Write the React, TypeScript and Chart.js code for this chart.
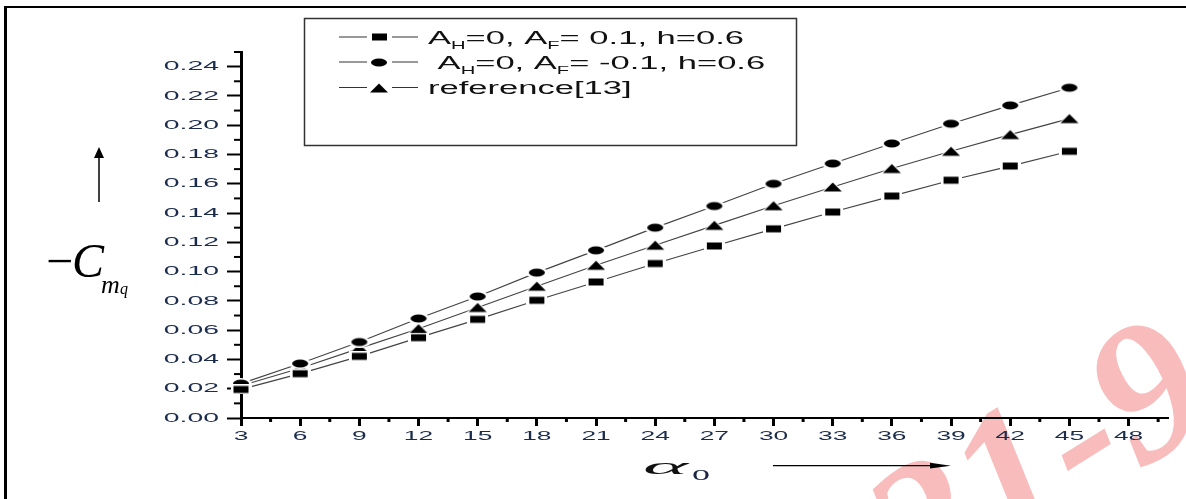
import React, { useEffect, useRef } from 'react';
import { Chart, registerables } from 'chart.js';

Chart.register(...registerables);

// ---- data ----
const alphaDeg = [3, 6, 9, 12, 15, 18, 21, 24, 27, 30, 33, 36, 39, 42, 45];
const cmqAfPos = [0.0195, 0.0303, 0.0421, 0.0549, 0.0674, 0.0804, 0.0929, 0.1055, 0.1175, 0.1292, 0.1407, 0.1516, 0.1624, 0.1721, 0.1822];
const cmqAfNeg = [0.0235, 0.0372, 0.0519, 0.068, 0.083, 0.0993, 0.1145, 0.13, 0.1448, 0.16, 0.1738, 0.1875, 0.201, 0.2135, 0.2256];
const cmqRef = [0.022, 0.034, 0.0476, 0.061, 0.0755, 0.09, 0.1043, 0.118, 0.1316, 0.145, 0.1578, 0.1704, 0.1822, 0.1936, 0.2045];
const seriesLabels = ['A_{H}=0, A_{F}= 0.1, h=0.6', ' A_{H}=0, A_{F}= -0.1, h=0.6', 'reference[13]'];
const xTitle = 'α';
const xTitleSub = 'o';
const yTitleParts = ['−', 'C', 'm', 'q'];
const watermark = '21-96';

type Kind = 'square' | 'circle' | 'triangle';

function shapePath(g: CanvasRenderingContext2D, kind: Kind, cx: number, cy: number, w: number, h: number) {
  g.beginPath();
  if (kind === 'square') g.rect(cx - w / 2, cy - h / 2, w, h);
  else if (kind === 'circle') g.ellipse(cx, cy, w / 2, h / 2, 0, 0, Math.PI * 2);
  else {
    g.moveTo(cx, cy - h / 2);
    g.lineTo(cx + w / 2, cy + h / 2);
    g.lineTo(cx - w / 2, cy + h / 2);
    g.closePath();
  }
}

function makeMarker(kind: Kind): HTMLCanvasElement {
  const dims: Record<Kind, [number, number]> = { square: [15, 7], circle: [16, 8], triangle: [18, 9] };
  const [w, h] = dims[kind];
  const hx = 3, hy = 1.5;
  const c = document.createElement('canvas');
  c.width = w + 2 * hx;
  c.height = h + 2 * hy;
  const g = c.getContext('2d')!;
  const cx = c.width / 2, cy = c.height / 2;
  g.fillStyle = '#fff';
  shapePath(g, kind, cx, cy, w + 2 * hx, h + 2 * hy);
  g.fill();
  g.fillStyle = '#000';
  shapePath(g, kind, cx, cy, w, h);
  g.fill();
  return c;
}

function stretchText(ctx: CanvasRenderingContext2D, text: string, x: number, y: number, sx: number, align: 'left' | 'center' | 'right') {
  const w = ctx.measureText(text).width * sx;
  const x0 = align === 'left' ? x : align === 'center' ? x - w / 2 : x - w;
  ctx.save();
  ctx.translate(x0, y);
  ctx.scale(sx, 1);
  ctx.textAlign = 'left';
  ctx.fillText(text, 0, 0);
  ctx.restore();
  return w;
}

function parseLabel(s: string): { t: string; sub: boolean }[] {
  const out: { t: string; sub: boolean }[] = [];
  const re = /_\{([^}]*)\}/g;
  let last = 0;
  let m: RegExpExecArray | null;
  while ((m = re.exec(s))) {
    if (m.index > last) out.push({ t: s.slice(last, m.index), sub: false });
    out.push({ t: m[1], sub: true });
    last = m.index + m[0].length;
  }
  if (last < s.length) out.push({ t: s.slice(last), sub: false });
  return out;
}

export default function App() {
  const ref = useRef<HTMLCanvasElement | null>(null);

  useEffect(() => {
    const canvas = ref.current!;
    const markers = [makeMarker('square'), makeMarker('circle'), makeMarker('triangle')];
    const values = [cmqAfPos, cmqAfNeg, cmqRef];

    const decor = {
      id: 'decor',
      beforeDraw(chart: any) {
        const ctx: CanvasRenderingContext2D = chart.ctx;
        ctx.save();
        ctx.fillStyle = '#fff';
        ctx.fillRect(0, 0, chart.width, chart.height);
        // watermark
        ctx.translate(1085, 445);
        ctx.rotate((-32 * Math.PI) / 180);
        ctx.font = 'italic bold 195px "Liberation Serif"';
        ctx.fillStyle = 'rgba(240, 80, 80, 0.38)';
        ctx.textAlign = 'center';
        ctx.textBaseline = 'middle';
        ctx.fillText(watermark, 0, 0);
        ctx.restore();
      },
      afterDraw(chart: any) {
        const ctx: CanvasRenderingContext2D = chart.ctx;
        const xs = chart.scales.x;
        const ys = chart.scales.y;
        const area = chart.chartArea;
        ctx.save();

        // minor ticks
        ctx.strokeStyle = '#000';
        ctx.lineWidth = 3;
        for (let v = 4.5; v < 50; v += 3) {
          const px = xs.getPixelForValue(v);
          ctx.beginPath();
          ctx.moveTo(px, area.bottom);
          ctx.lineTo(px, area.bottom + 4);
          ctx.stroke();
        }
        ctx.lineWidth = 2;
        for (let k = 1; k <= 25; k += 2) {
          const py = ys.getPixelForValue(k / 100);
          ctx.beginPath();
          ctx.moveTo(area.left - 7, py);
          ctx.lineTo(area.left, py);
          ctx.stroke();
        }

        // tick labels
        ctx.fillStyle = '#1b2b4b';
        ctx.font = '13.5px "Liberation Sans"';
        ctx.textBaseline = 'middle';
        ys.ticks.forEach((t: any) => {
          stretchText(ctx, Number(t.value).toFixed(2), 219, ys.getPixelForValue(t.value), 2.1, 'right');
        });
        ctx.textBaseline = 'alphabetic';
        xs.ticks.forEach((t: any) => {
          stretchText(ctx, String(Math.round(t.value)), xs.getPixelForValue(t.value), 439.5, 1.95, 'center');
        });

        // legend box
        ctx.strokeStyle = '#333';
        ctx.lineWidth = 1.5;
        ctx.strokeRect(304.5, 18.5, 492, 127);
        const rowY = [37, 62, 87.5];
        seriesLabels.forEach((lab, i) => {
          const y = rowY[i];
          ctx.strokeStyle = '#333';
          ctx.lineWidth = 1;
          ctx.beginPath();
          ctx.moveTo(339, y);
          ctx.lineTo(367, y);
          ctx.moveTo(392, y);
          ctx.lineTo(418, y);
          ctx.stroke();
          const mk = markers[i];
          ctx.drawImage(mk, Math.round(379 - mk.width / 2), Math.round(y - mk.height / 2));
          ctx.fillStyle = '#111';
          ctx.textBaseline = 'alphabetic';
          let x = 428;
          parseLabel(lab).forEach((p) => {
            if (p.sub) {
              ctx.font = '10.5px "Liberation Sans"';
              x += stretchText(ctx, p.t, x, y + 11.5, 1.92, 'left');
            } else {
              ctx.font = '18px "Liberation Sans"';
              x += stretchText(ctx, p.t, x, y + 6.5, 1.92, 'left');
            }
          });
        });

        // y title
        ctx.fillStyle = '#000';
        ctx.font = '48px "Liberation Serif"';
        ctx.fillText(yTitleParts[0], 46, 277);
        ctx.font = 'italic 48px "Liberation Serif"';
        ctx.fillText(yTitleParts[1], 72, 277);
        ctx.font = 'italic 26px "Liberation Serif"';
        ctx.fillText(yTitleParts[2], 101, 293);
        ctx.font = 'italic 16px "Liberation Serif"';
        ctx.fillText(yTitleParts[3], 120, 294);
        // y arrow
        ctx.strokeStyle = '#000';
        ctx.lineWidth = 1.5;
        ctx.beginPath();
        ctx.moveTo(99, 202);
        ctx.lineTo(99, 157);
        ctx.stroke();
        ctx.beginPath();
        ctx.moveTo(94, 158);
        ctx.lineTo(104, 158);
        ctx.lineTo(99, 147);
        ctx.closePath();
        ctx.fill();

        // x title
        ctx.fillStyle = '#111';
        ctx.font = 'italic 24px "Liberation Serif"';
        const aw = ctx.measureText(xTitle).width;
        stretchText(ctx, xTitle, 643, 473.5, 45 / aw, 'left');
        ctx.font = '20px "Liberation Serif"';
        ctx.fillStyle = '#1a2540';
        const ow = ctx.measureText(xTitleSub).width;
        stretchText(ctx, xTitleSub, 692, 479.5, 18 / ow, 'left');
        // x arrow
        ctx.strokeStyle = '#000';
        ctx.fillStyle = '#000';
        ctx.lineWidth = 1.3;
        ctx.beginPath();
        ctx.moveTo(773, 465.7);
        ctx.lineTo(932, 465.7);
        ctx.stroke();
        ctx.beginPath();
        ctx.moveTo(930, 462.8);
        ctx.lineTo(930, 468.6);
        ctx.lineTo(951, 465.7);
        ctx.closePath();
        ctx.fill();

        // outer frame
        ctx.fillStyle = '#000';
        ctx.fillRect(4, 6, 3, chart.height - 6);
        ctx.fillRect(4, 6, chart.width - 4, 2);
        ctx.restore();
      },
    };

    const chart = new Chart(canvas, {
      type: 'line',
      data: {
        datasets: seriesLabels.map((lab, i) => ({
          label: lab,
          data: alphaDeg.map((x, j) => ({ x, y: values[i][j] })),
          borderColor: '#444',
          borderWidth: 1.2,
          pointStyle: markers[i] as any,
          pointRadius: 5,
          pointHoverRadius: 5,
          clip: false as any,
          tension: 0,
          fill: false,
        })),
      },
      options: {
        responsive: false,
        animation: false,
        devicePixelRatio: 1,
        events: [],
        layout: { padding: { top: 52, right: 18, left: 0, bottom: 0 } },
        plugins: { legend: { display: false }, tooltip: { enabled: false } },
        scales: {
          x: {
            type: 'linear',
            min: 3,
            max: 50,
            ticks: { stepSize: 3, includeBounds: false, display: false },
            grid: { display: true, drawOnChartArea: false, drawTicks: true, tickLength: 8, tickWidth: 3, tickColor: '#000', color: '#000' },
            border: { display: true, color: '#000', width: 2 },
            afterFit: (s: any) => {
              s.height = 81;
            },
          },
          y: {
            type: 'linear',
            min: 0,
            max: 0.25,
            ticks: { stepSize: 0.02, includeBounds: false, display: false },
            grid: { display: true, drawOnChartArea: false, drawTicks: true, tickLength: 14, tickWidth: 2, tickColor: '#000', color: '#000' },
            border: { display: true, color: '#000', width: 3 },
            afterFit: (s: any) => {
              s.width = 241;
            },
          },
        },
      },
      plugins: [decor],
    });
    return () => chart.destroy();
  }, []);

  return (
    <div style={{ position: 'absolute', left: 0, top: 0, width: 1186, height: 499, background: '#fff' }}>
      <canvas ref={ref} width={1186} height={499} style={{ display: 'block', width: 1186, height: 499 }} />
    </div>
  );
}
